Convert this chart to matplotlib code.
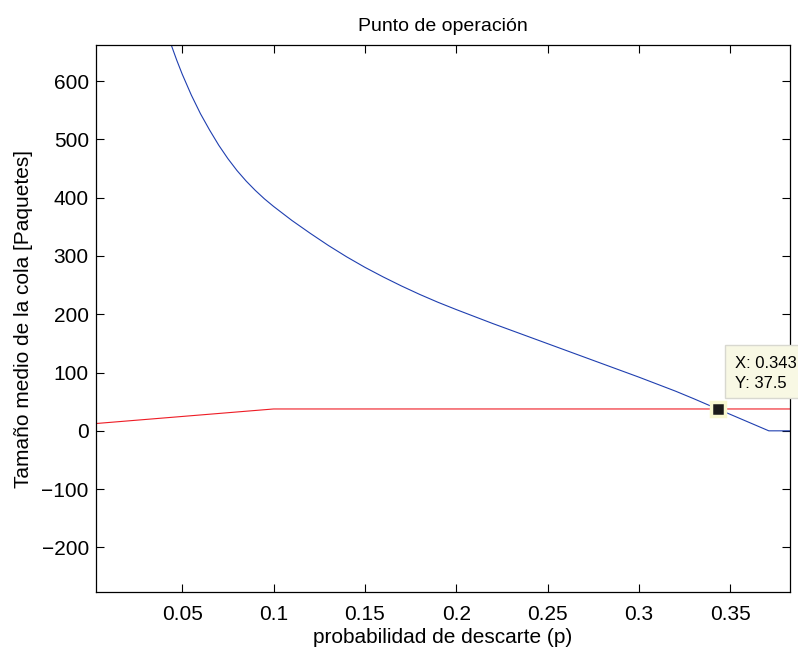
import numpy as np
import matplotlib
matplotlib.use("Agg")
import matplotlib.pyplot as plt
from matplotlib.patches import Rectangle

plt.rcParams['font.family'] = ['Liberation Sans', 'DejaVu Sans']

# curva azul: tamaño medio de la cola vs p
p_cola = [0.0425, 0.044, 0.047, 0.05, 0.055, 0.06, 0.065, 0.07, 0.075, 0.08,
          0.085, 0.09, 0.095, 0.10, 0.11, 0.12, 0.13,
          0.14, 0.15, 0.16, 0.17, 0.18, 0.19, 0.20, 0.21, 0.22, 0.23, 0.24,
          0.25, 0.26, 0.27, 0.28, 0.29, 0.30, 0.31, 0.32, 0.33, 0.34, 0.343,
          0.371, 0.3826]
q_cola = [676, 662, 636, 612, 576, 544, 516, 490, 467, 446.5,
          428.5, 412.5, 398, 385, 361, 339, 318,
          298.5, 280.5, 264, 248.5, 234, 220.5, 208, 196, 184, 172.5, 161,
          149.5, 138, 126.5, 115, 103.5, 92, 80, 68, 55, 41.5, 37.5,
          0, 0]

# recta roja (punto de operación)
p_op = [0.0027, 0.1000, 0.3826]
q_op = [12.5, 37.5, 37.5]

tip_x = 0.343
tip_y = 37.5

xticks = [0.05, 0.1, 0.15, 0.2, 0.25, 0.3, 0.35]
xlabels = ['0.05', '0.1', '0.15', '0.2', '0.25', '0.3', '0.35']
yticks = [-200, -100, 0, 100, 200, 300, 400, 500, 600]
ylabels = ['\u2212200', '\u2212100', '0', '100', '200', '300', '400', '500', '600']

fig = plt.figure(figsize=(7.98, 6.5), dpi=100)
ax = fig.add_axes([0.120, 0.0888, 0.870, 0.842])

ax.plot(p_cola, q_cola, color='#1f3fb0', lw=0.8)
ax.plot(p_op, q_op, color='#ee1c25', lw=0.8)
ax.plot([tip_x], [tip_y], marker='s', markersize=10.5, color='#1a1a1a',
        markeredgecolor='#f7f7d0', markeredgewidth=2.5, zorder=5, clip_on=False)

ax.set_xlim(0.0027, 0.3826)
ax.set_ylim(-277, 662)
ax.set_xticks(xticks)
ax.set_xticklabels(xlabels)
ax.set_yticks(yticks)
ax.set_yticklabels(ylabels)
ax.tick_params(direction='in', length=6, width=0.8, top=True, right=True,
               labelsize=15)
ax.tick_params(axis='x', pad=9)
ax.tick_params(axis='y', pad=5)
for s in ax.spines.values():
    s.set_linewidth(0.9)

ax.set_title('Punto de operación', fontsize=14, pad=10)
ax.set_xlabel('probabilidad de descarte (p)', fontsize=15, labelpad=3)
ax.set_ylabel('Tamaño medio de la cola [Paquetes]', fontsize=15, labelpad=6)

# cuadro del data tip
W, H = 798.0, 650.0
fig.patches.append(Rectangle((725 / W, 1 - 398 / H), 80 / W, 53 / H,
                             transform=fig.transFigure, facecolor='#f8f8e4',
                             edgecolor='#d8d8d0', lw=1.0, zorder=10))
fig.text(735 / W, 1 - 363 / H, 'X: %.3f' % tip_x, fontsize=12, va='center', zorder=11)
fig.text(735 / W, 1 - 383.5 / H, 'Y: %.1f' % tip_y, fontsize=12, va='center', zorder=11)

fig.savefig('out.png', dpi=100)
